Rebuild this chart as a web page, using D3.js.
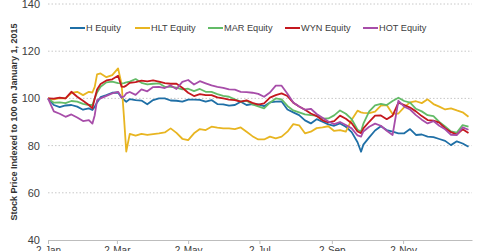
<!DOCTYPE html>
<html>
<head>
<meta charset="utf-8">
<script src="https://cdn.jsdelivr.net/npm/d3@7"></script>
<style>
  body { margin: 0; background: #fff; }
  svg { display: block; font-family: Arial, "Liberation Sans", sans-serif; }
</style>
</head>
<body>
<svg id="chart"></svg>
<script>
// dates (2015)
const dates = [
  "2015-01-02","2015-01-07","2015-01-12","2015-01-17","2015-01-22","2015-01-27","2015-02-01","2015-02-06",
  "2015-02-09","2015-02-11","2015-02-13",
  "2015-02-16","2015-02-21","2015-02-26","2015-03-03",
  "2015-03-06","2015-03-08","2015-03-10",
  "2015-03-13","2015-03-18","2015-03-23","2015-03-28","2015-04-02","2015-04-07","2015-04-12","2015-04-17",
  "2015-04-22","2015-04-27","2015-05-02","2015-05-07","2015-05-12","2015-05-17","2015-05-22","2015-05-27",
  "2015-06-01","2015-06-06","2015-06-11","2015-06-16","2015-06-21","2015-06-26","2015-07-01","2015-07-06",
  "2015-07-11","2015-07-16","2015-07-21","2015-07-26","2015-07-31","2015-08-05","2015-08-10","2015-08-15",
  "2015-08-20","2015-08-25","2015-08-30","2015-09-04","2015-09-09","2015-09-14","2015-09-19","2015-09-24",
  "2015-09-27","2015-09-29",
  "2015-10-04","2015-10-09","2015-10-14","2015-10-19","2015-10-24","2015-10-29","2015-11-03","2015-11-08",
  "2015-11-13","2015-11-18","2015-11-23","2015-11-28","2015-12-03","2015-12-08","2015-12-13","2015-12-18",
  "2015-12-23","2015-12-28"
];

const hEquity = [100,97.2,96.3,97.0,97.2,96.5,95.2,95.8, 95.1,96.5,98.3, 100.5,101.4,102.4,102.5, 100.3,99.4,98.6,
  99.7,99.3,99.1,97.5,99.3,100,100,99.1,99.0,98.6,99.5,99.5,99.4,98.6,99.3,97.6,97.5,96.9,97.2,98.6,97.2,97.6,
  97.5,96.7,98.3,98.6,98.7,95.3,94.1,92.9,90.7,89.4,91.2,90.1,89.0,88.4,89.4,88.0,85.7,81.4, 77.4,80.4,
  83.5,86.4,88.2,86.6,85.9,85.2,85.2,87.0,84.5,84.7,83.8,83.6,82.8,82.0,80.2,81.8,80.9,79.5];

const hltEquity = [100,99.6,100.1,100,102.3,102.8,101.4,102.8, 102.5,104.9,110.2, 110.6,109,109.9,112.7, 106,92.4,77.5,
  85.0,84.2,85.0,84.5,84.9,85.2,85.6,87.3,85.4,82.9,82.3,85.2,87.0,86.6,88,87.6,87.3,87.3,87,87.7,85.9,84.0,
  82.6,82.6,83.8,83.1,83.8,85.9,89.1,88.6,85.2,85.9,87.4,87.7,88.2,86.2,86.6,85.9,91.0,94.8, 94.1,93.9,
  93.8,94.4,96.9,97.2,93.4,93.6,96.3,98.3,98.8,98.0,99.6,97.6,96.5,95.3,95.8,94.9,94.1,92.2];

const marEquity = [100,98.2,98.3,98.0,98.9,98.6,97.7,97.2, 97.2,100,102.5, 104.9,106.8,107.1,106.5, 106.4,106.5,106.8,
  107.1,108.2,106.6,105.9,106.2,106.4,104.9,104.9,104.6,103.8,104.1,103.1,104.0,102.8,102.8,101.8,101.1,100.7,99.6,98.6,99.0,97.5,
  96.6,95.8,98.2,100,99.6,96.8,94.9,94.1,93.2,92.9,92.7,91.4,91.5,92.8,94.9,93.5,91.2,86.7, 86.0,89.3,
  94.5,97.0,97.7,97.2,98.9,100.3,98.9,98.2,95.6,94.5,92.9,92.5,90.0,88.1,86.0,85.5,88.7,88.0];

const wynEquity = [100,99.9,100.3,100,102.8,100.7,99.0,97.2, 95.8,100,103.8, 106.1,107.6,108.1,109.6, 105,104.9,105.4,
  106.6,106.9,107.5,107.2,107.6,107.1,106.5,106.2,106.2,104.5,102.4,101,101.8,101.4,101.4,100.4,100,99.5,99.3,98.6,99.2,98.1,
  97.4,97.9,100.3,101.4,102.1,101,98.2,96.6,95.2,93.6,92.5,90.7,89.8,90.4,92.7,91.4,89.5,86.0, 85.3,87.3,
  90.1,92.7,92.8,91.2,92.7,98.2,97.2,96.1,94.5,92.5,90.8,90.6,89.7,87.4,85.7,84.7,86.9,85.3];

const hotEquity = [100,94.5,93.5,92.2,93.2,91.9,90.4,90.8, 89.3,92.9,99.2, 100,101.1,102.1,102.8, 100.4,100.8,102.1,
  102.7,101.5,103.8,103,104.8,104.9,104.4,105.5,104,107,107.8,105.9,107.3,106.4,105.5,104.9,104.5,103.8,103.7,102.8,102.7,102.4,
  101.9,100.7,102.5,105.4,105.4,102,98.3,96.6,95.2,95.6,93.4,91.8,90.2,89.1,90,88.7,87.3,84.3, 83.8,86.0,
  88,89.3,88.4,86.3,84.5,99,96.5,95.3,92.9,91,89.4,90.4,88.4,86.9,84.6,84.5,87.7,86.7];

const seriesNames = ["H Equity", "HLT Equity", "MAR Equity", "WYN Equity", "HOT Equity"];
const seriesValues = [hEquity, hltEquity, marEquity, wynEquity, hotEquity];
const colors = ["#1f6fa6", "#e8b521", "#63bb67", "#c4181f", "#a74da9"];

const yTicks = [40, 60, 80, 100, 120, 140];
const xTickDates = ["2015-01-02", "2015-03-02", "2015-05-02", "2015-07-02", "2015-09-02", "2015-11-02"];

const W = 480, H = 251;
const margin = { top: 4, right: 8, bottom: 11, left: 48 };
const width = W - margin.left - margin.right;
const height = H - margin.top - margin.bottom;

const parseDate = d3.timeParse("%Y-%m-%d");
const dateObjs = dates.map(parseDate);

const svg = d3.select("#chart").attr("width", W).attr("height", H);
const g = svg.append("g").attr("transform", `translate(${margin.left},${margin.top})`);

const x = d3.scaleTime()
  .domain([parseDate("2015-01-02"), parseDate("2015-12-31")])
  .range([0, width]);
const y = d3.scaleLinear().domain([40, 140]).range([height, 0]);

// 그리드
g.append("g")
  .selectAll("line")
  .data(yTicks.filter(t => t > 40))
  .enter().append("line")
  .attr("x1", 0).attr("x2", width)
  .attr("y1", d => y(d)).attr("y2", d => y(d))
  .attr("stroke", "#c8c8c8")
  .attr("stroke-width", 1)
  .attr("stroke-dasharray", "1.5,2");

// Y 축 (라벨만)
const yAxis = g.append("g")
  .call(d3.axisLeft(y).tickValues(yTicks).tickSize(0).tickPadding(8));
yAxis.select(".domain").remove();
yAxis.selectAll("text").attr("font-size", 11).attr("fill", "#404040").attr("font-family", "Arial, 'Liberation Sans', sans-serif");

// X 축
const xAxis = g.append("g")
  .attr("transform", `translate(0,${height})`)
  .call(d3.axisBottom(x)
    .tickValues(xTickDates.map(parseDate))
    .tickFormat(d3.timeFormat("%-d-%b"))
    .tickSize(4).tickPadding(3).tickSizeOuter(0));
xAxis.select(".domain").attr("stroke", "#bdbdbd");
xAxis.selectAll(".tick line").attr("stroke", "#bdbdbd");
xAxis.selectAll("text").attr("font-size", 10).attr("fill", "#404040").attr("font-family", "Arial, 'Liberation Sans', sans-serif");

// lines
const line = d3.line()
  .x((d, i) => x(dateObjs[i]))
  .y(d => y(d));

seriesValues.forEach((vals, k) => {
  g.append("path")
    .datum(vals)
    .attr("fill", "none")
    .attr("stroke", colors[k])
    .attr("stroke-width", 1.8)
    .attr("stroke-linejoin", "round")
    .attr("d", line);
});

// 범례
const legendX = [70, 135, 208, 285, 363];
const legend = svg.selectAll(".legend")
  .data(seriesNames)
  .enter().append("g")
  .attr("class", "legend")
  .attr("transform", (d, i) => `translate(${legendX[i]},28)`);

legend.append("line")
  .attr("x1", 0).attr("x2", 15)
  .attr("y1", 0).attr("y2", 0)
  .attr("stroke", (d, i) => colors[i])
  .attr("stroke-width", 2);

legend.append("text")
  .attr("x", 16)
  .attr("y", 0)
  .attr("dy", "0.35em")
  .attr("font-size", 9.2)
  .attr("fill", "#404040")
  .text(d => d);

// y title
svg.append("text")
  .attr("transform", `translate(14,${margin.top + height / 2}) rotate(-90)`)
  .attr("text-anchor", "middle")
  .attr("dy", "0.35em")
  .attr("font-size", 9)
  .attr("font-weight", "bold")
  .attr("fill", "#333")
  .text("Stock Price Indexed to 100 on January 1, 2015");
</script>
</body>
</html>
